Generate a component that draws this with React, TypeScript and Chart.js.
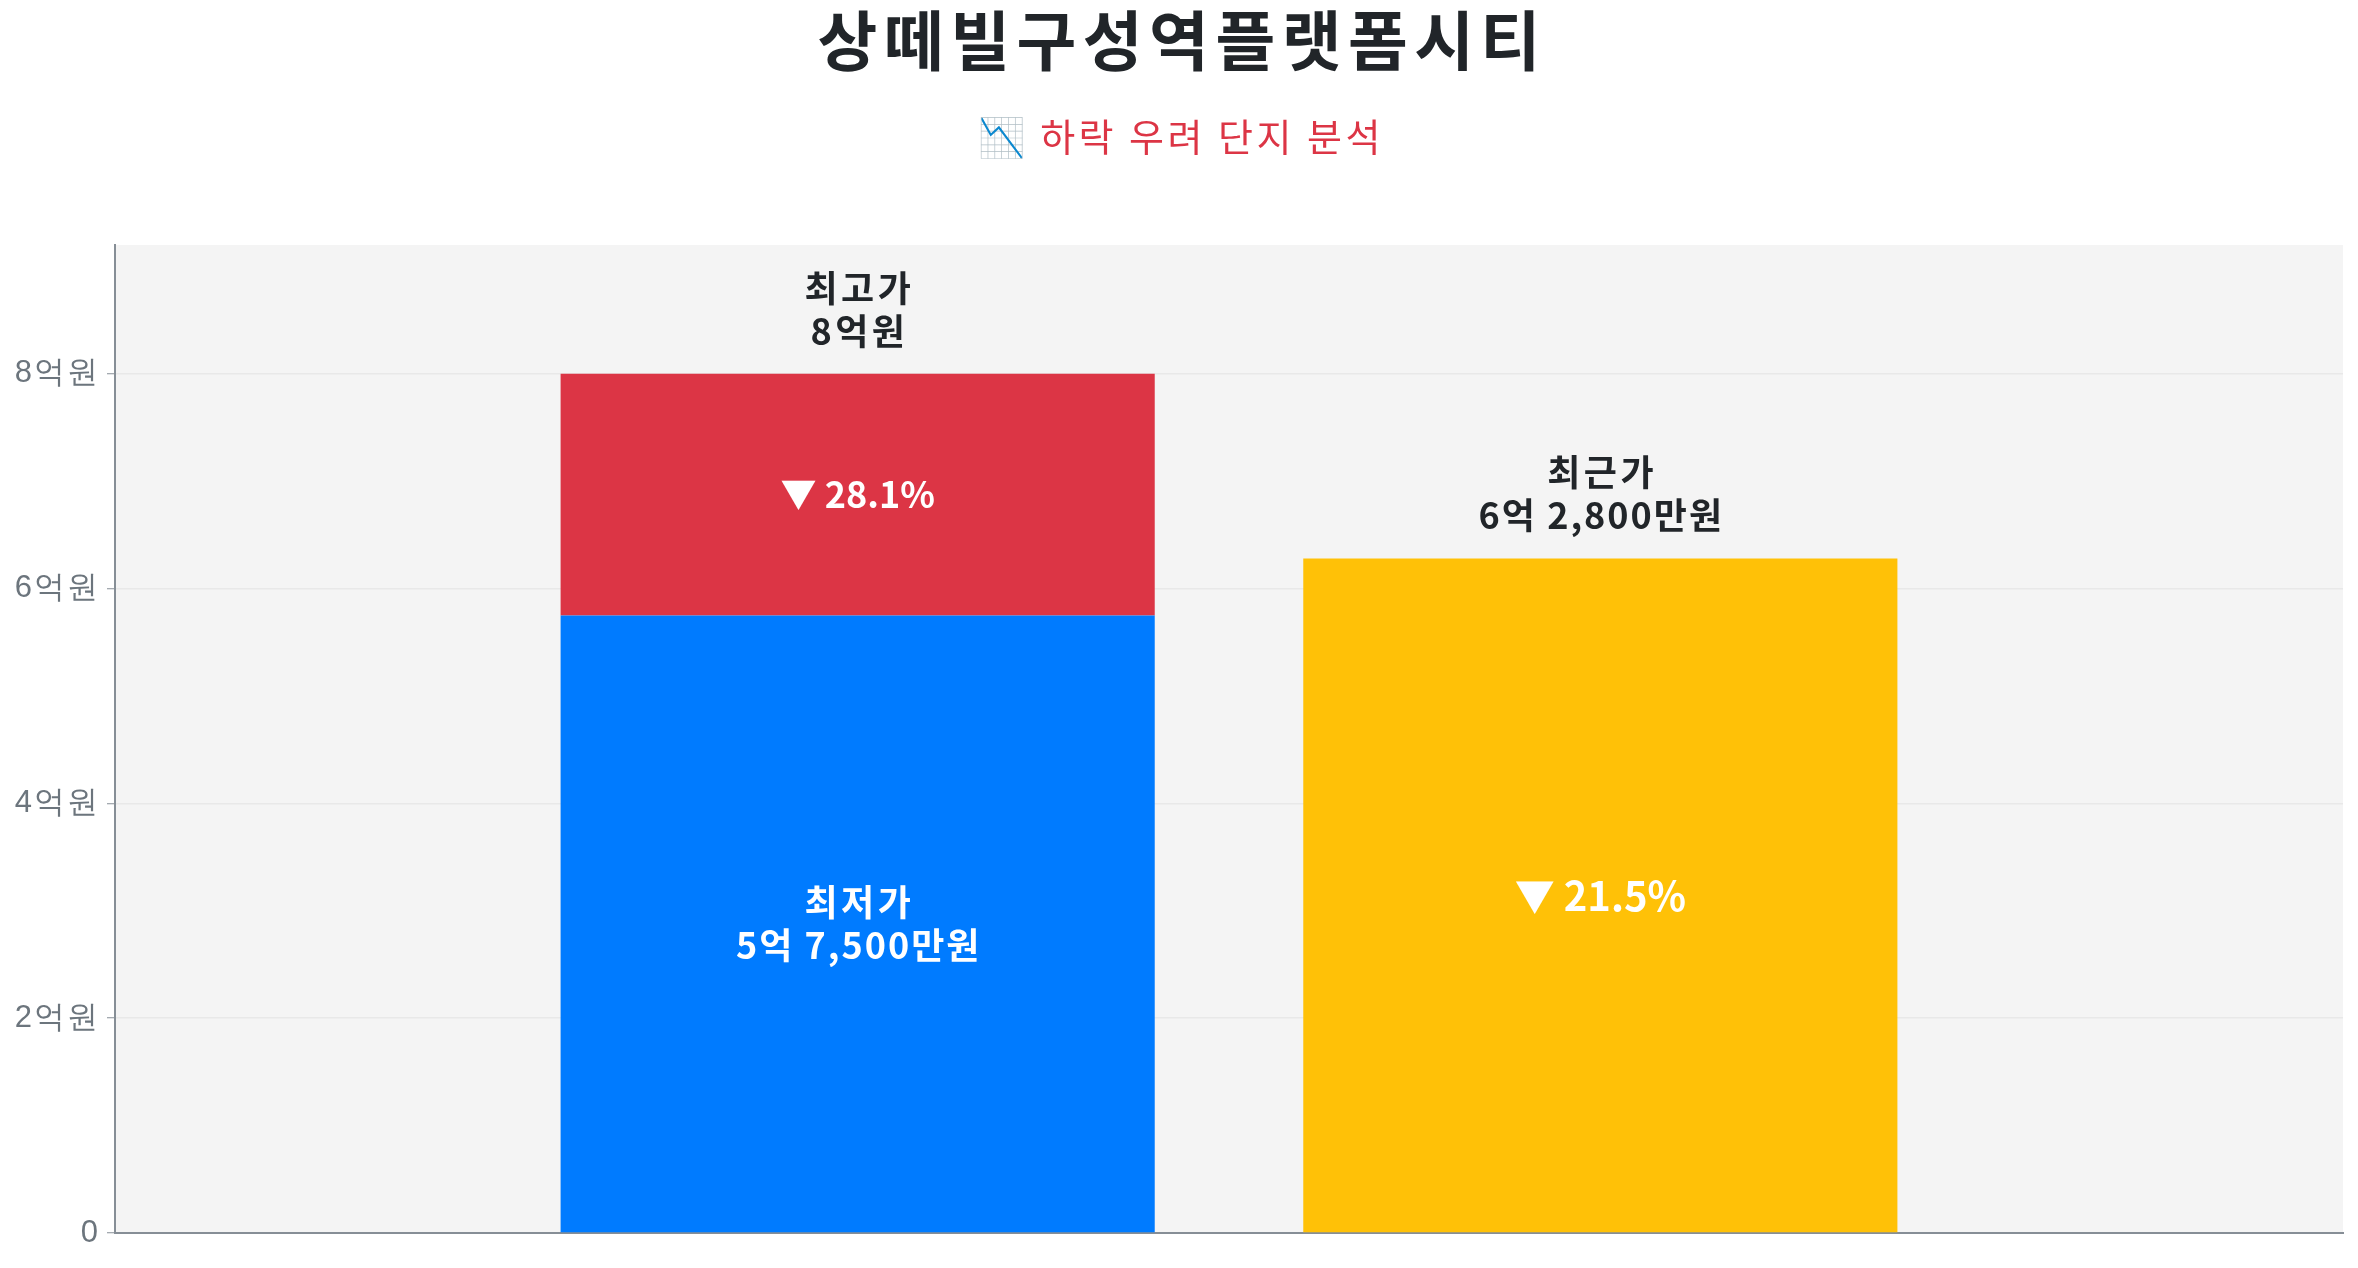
import { useEffect, useRef } from 'react';
import { Chart, registerables } from 'chart.js';

Chart.register(...registerables);

// chart values (원)
const categories = ['', '최고가·최저가', '최근가', ''];
const highPrice = 800000000;
const lowPrice = [null, 575000000, null, null];
const dropGap = [null, 225000000, null, null]; // 최고가 - 최저가
const recentPrice = [null, null, 628000000, null];
const yTicks = [0, 200000000, 400000000, 600000000, 800000000];

const titleText = '상떼빌구성역플랫폼시티';
const subtitleText = '📉 하락 우려 단지 분석';

const KR_FONT = "'Noto Sans CJK KR', 'Noto Sans', sans-serif";

const formatKRW = (v: number) => {
  const eok = Math.floor(v / 100000000);
  const man = Math.round((v % 100000000) / 10000);
  if (man === 0) return `${eok}억원`;
  return `${eok}억 ${man.toLocaleString('en-US')}만원`;
};

const dropPct = (v: number) => (((highPrice - v) / highPrice) * 100).toFixed(1);

// centered text with extra letter spacing (Hangul in the original is a bit wider)
const spacedText = (ctx: any, text: string, x: number, y: number, spacing: number) => {
  ctx.letterSpacing = `${spacing}px`;
  ctx.fillText(text, x + spacing / 2, y);
  ctx.letterSpacing = '0px';
};

const areaBg = {
  id: 'areaBg',
  beforeDraw(chart: any) {
    const { ctx, chartArea } = chart;
    ctx.save();
    ctx.fillStyle = '#f4f4f4';
    ctx.fillRect(chartArea.left, chartArea.top, chartArea.right - chartArea.left, chartArea.bottom - chartArea.top);
    ctx.restore();
    ctx.letterSpacing = '2px'; // tick labels
  },
  beforeDatasetsDraw(chart: any) {
    chart.ctx.letterSpacing = '0px';
  },
};

const headings = {
  id: 'headings',
  afterDraw(chart: any) {
    const { ctx, width } = chart;
    ctx.save();
    ctx.textAlign = 'center';
    ctx.textBaseline = 'middle';
    ctx.fillStyle = '#212529';
    ctx.font = `bold 65px ${KR_FONT}`;
    spacedText(ctx, titleText, width / 2, 40, 6.5);
    ctx.fillStyle = '#dc3545';
    ctx.font = `normal 38px ${KR_FONT}`;
    spacedText(ctx, subtitleText, width / 2, 137, 3.5);
    ctx.restore();
  },
};

const barLabels = {
  id: 'barLabels',
  afterDatasetsDraw(chart: any) {
    const { ctx } = chart;
    const low = chart.getDatasetMeta(0).data[1];
    const gap = chart.getDatasetMeta(1).data[1];
    const recent = chart.getDatasetMeta(2).data[2];
    ctx.save();
    ctx.textAlign = 'center';
    ctx.textBaseline = 'middle';

    const lowVal = lowPrice[1] as number;
    const recentVal = recentPrice[2] as number;

    // 최저가 (inside blue)
    ctx.fillStyle = '#ffffff';
    ctx.font = `bold 36px ${KR_FONT}`;
    let mid = (low.y + low.base) / 2;
    spacedText(ctx, '최저가', low.x, mid - 21.5, 3.5);
    spacedText(ctx, formatKRW(lowVal), low.x, mid + 21.5, 2);

    // drop % (inside red)
    mid = (gap.y + gap.base) / 2;
    ctx.fillText(`▼ ${dropPct(lowVal)}%`, gap.x, mid);

    // 최고가 above
    ctx.fillStyle = '#212529';
    spacedText(ctx, '최고가', gap.x, gap.y - 86, 3.5);
    spacedText(ctx, formatKRW(highPrice), gap.x, gap.y - 43, 3.5);

    // 최근가
    spacedText(ctx, '최근가', recent.x, recent.y - 86, 3.5);
    spacedText(ctx, formatKRW(recentVal), recent.x, recent.y - 43, 2);
    ctx.fillStyle = '#ffffff';
    ctx.font = `bold 40px ${KR_FONT}`;
    mid = (recent.y + recent.base) / 2;
    ctx.fillText(`▼ ${dropPct(recentVal)}%`, recent.x, mid);
    ctx.restore();
  },
};

const PriceChart = () => {
  const canvasRef = useRef<HTMLCanvasElement>(null);

  useEffect(() => {
    if (!canvasRef.current) return;
    const chart = new Chart(canvasRef.current, {
      type: 'bar',
      data: {
        labels: categories,
        datasets: [
          { label: '최저가', data: lowPrice, backgroundColor: '#007bff', stack: 'p' },
          { label: '하락폭', data: dropGap, backgroundColor: '#dc3545', stack: 'p' },
          { label: '최근가', data: recentPrice, backgroundColor: '#ffc107', stack: 'p' },
        ],
      },
      options: {
        animation: false,
        responsive: true,
        maintainAspectRatio: false,
        layout: { padding: { left: 15, right: 15, top: 245, bottom: 35 } },
        datasets: { bar: { categoryPercentage: 1.0, barPercentage: 0.8 } },
        plugins: {
          legend: { display: false },
          tooltip: { enabled: false },
          title: { display: false },
        },
        scales: {
          x: {
            stacked: true,
            offset: false,
            grid: { display: false, drawTicks: false },
            border: { display: true, color: '#868e96', width: 2 },
            ticks: { display: false },
          },
          y: {
            stacked: true,
            min: 0,
            max: 920000000,
            afterFit: (scale: any) => {
              scale.width = 100;
            },
            afterBuildTicks: (scale: any) => {
              scale.ticks = yTicks.map((v) => ({ value: v }));
            },
            grid: { color: '#e8e8e8', lineWidth: 1.5, tickColor: '#868e96', tickLength: 8, tickWidth: 1 },
            border: { display: true, color: '#868e96', width: 2 },
            ticks: {
              padding: 7,
              color: '#6c757d',
              font: { size: 31, family: "'Helvetica Neue', Helvetica, Arial, sans-serif" },
              callback: (v: any) => (v === 0 ? '0' : `${v / 100000000}억원`),
            },
          },
        },
      },
      plugins: [areaBg, headings, barLabels],
    } as any);

    return () => {
      chart.destroy();
    };
  }, []);

  return (
    <div style={{ position: 'fixed', left: 0, top: 0, width: '100vw', height: '100vh' }}>
      <canvas ref={canvasRef} />
    </div>
  );
};

export default function App() {
  return <PriceChart />;
}
